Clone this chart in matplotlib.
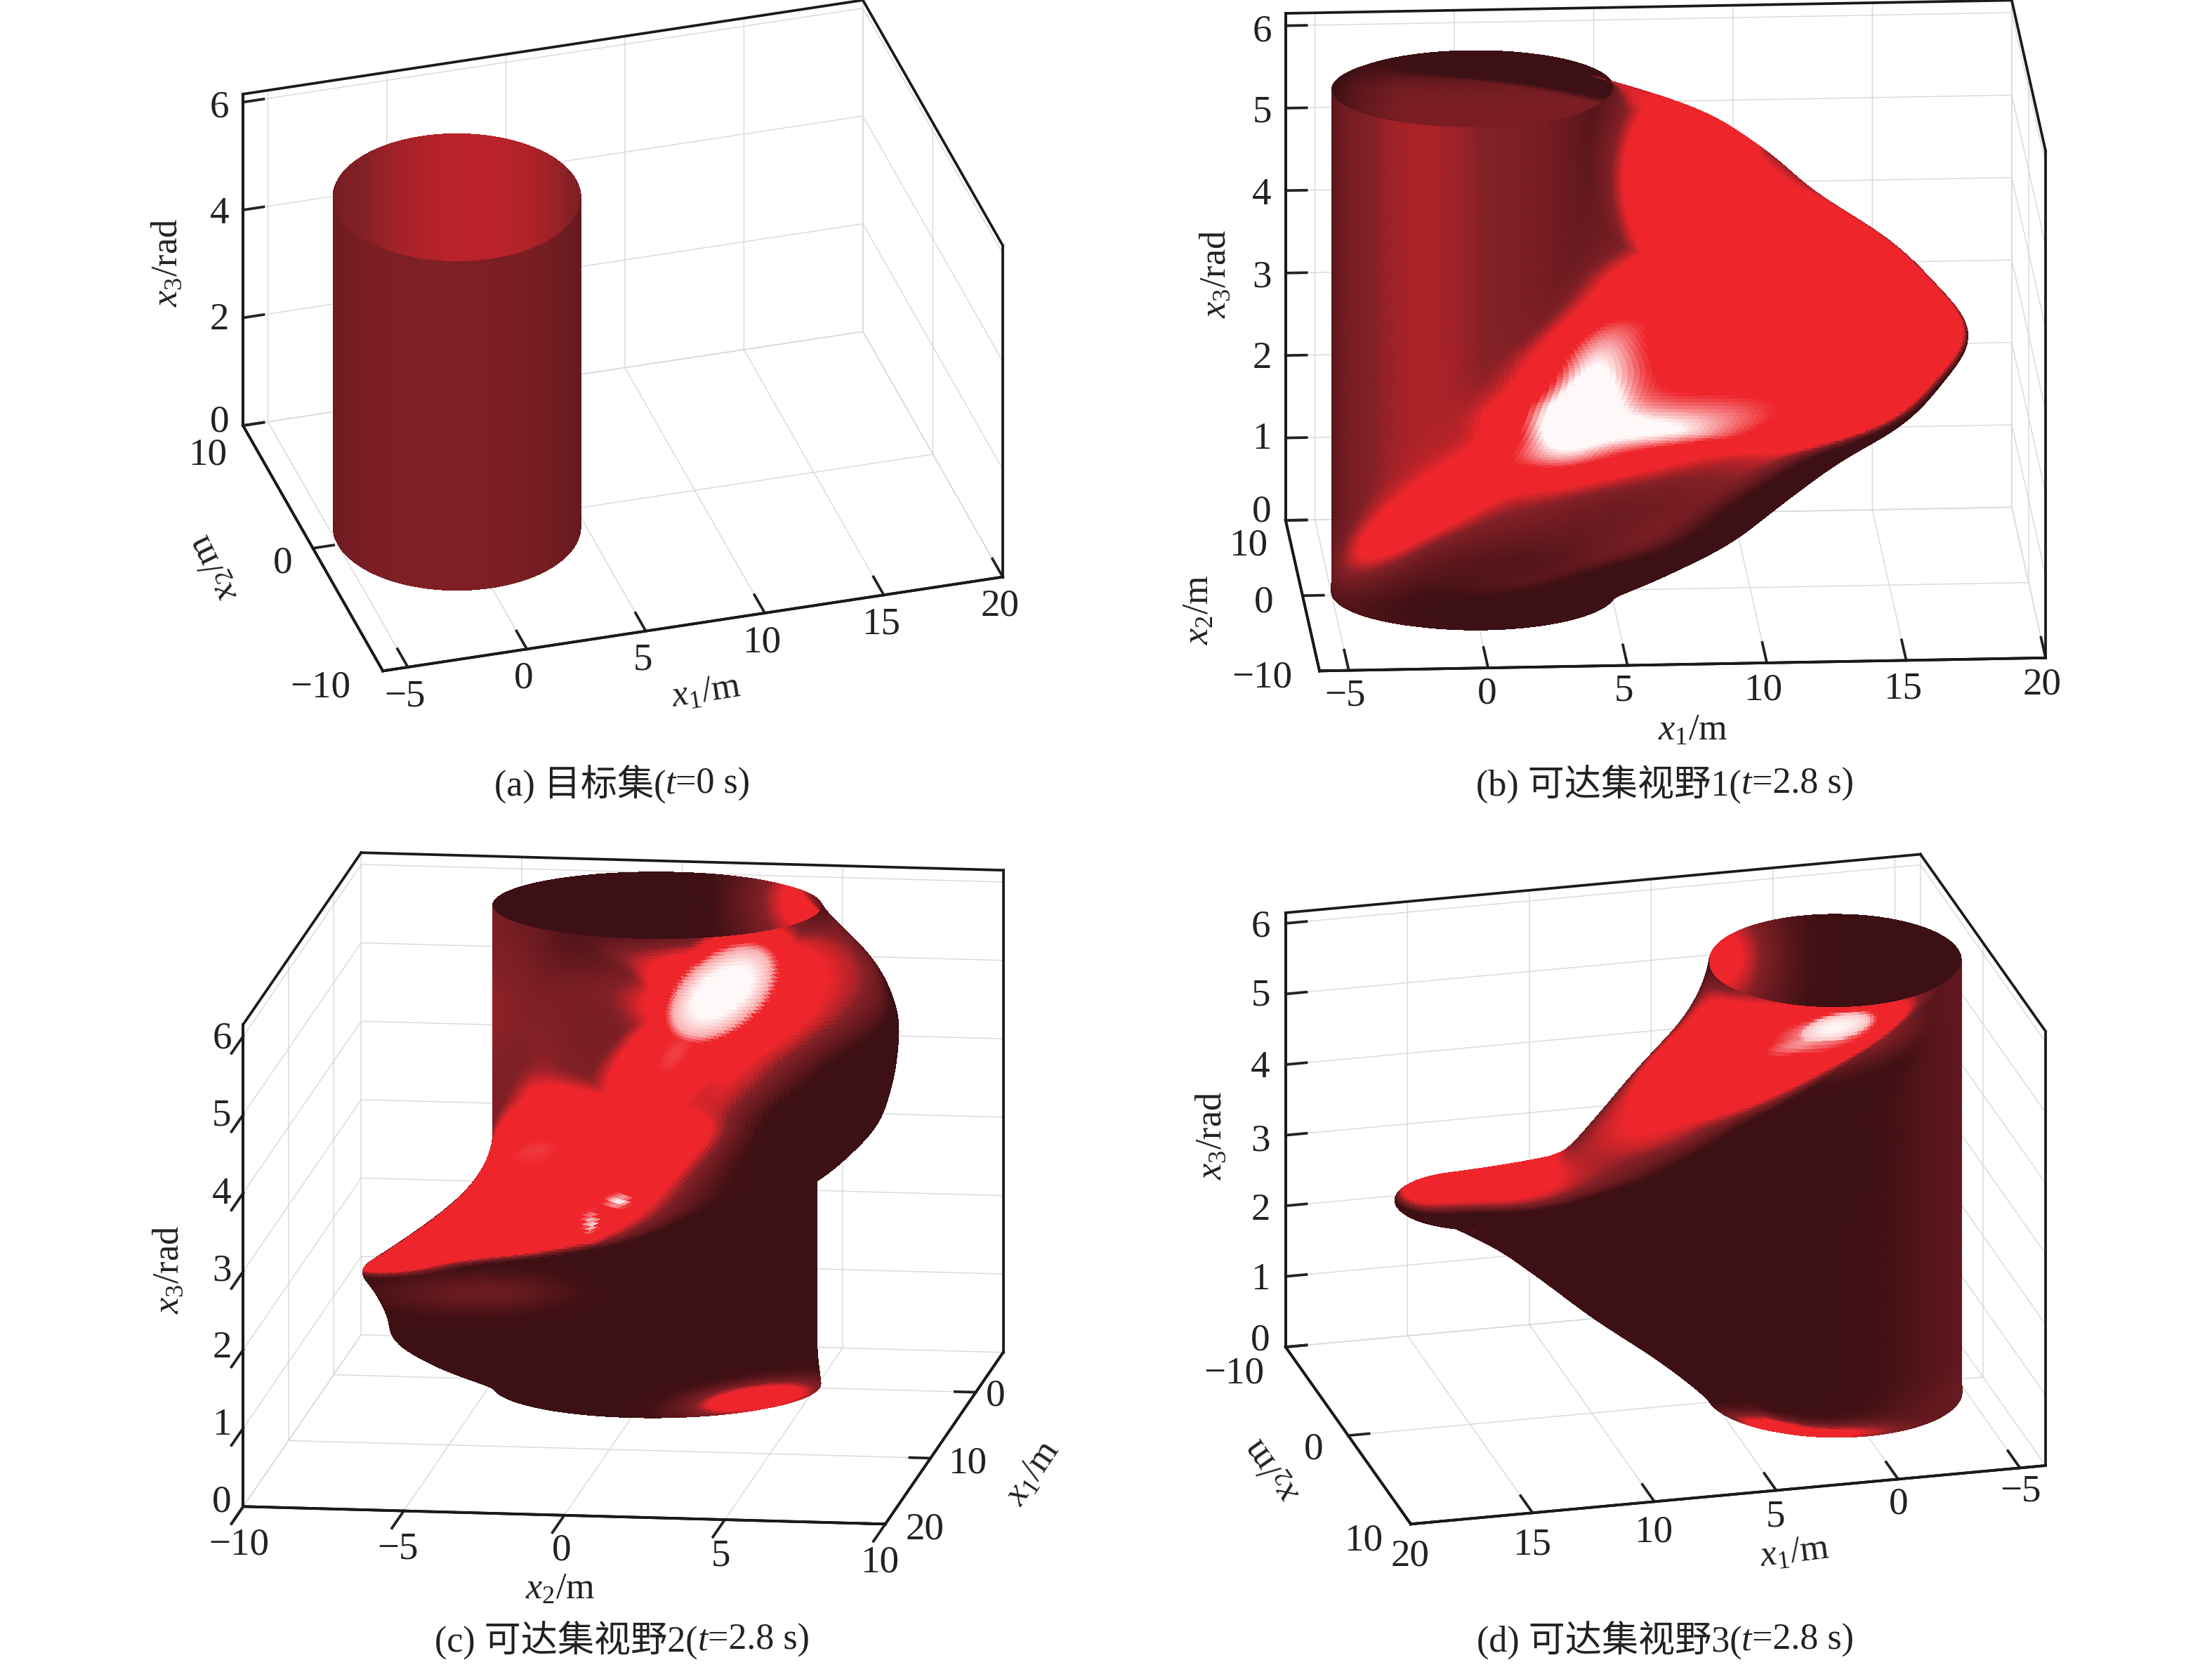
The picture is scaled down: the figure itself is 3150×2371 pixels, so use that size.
import numpy as np
import matplotlib
matplotlib.use('Agg')
import matplotlib.pyplot as plt
from matplotlib.transforms import Affine2D
from mpl_toolkits.mplot3d import proj3d

plt.rcParams['font.family'] = ['Liberation Serif', 'Noto Sans CJK SC']
plt.rcParams['mathtext.fontset'] = 'custom'
plt.rcParams['mathtext.rm'] = 'Liberation Serif'
plt.rcParams['mathtext.it'] = 'Liberation Serif:italic'

W, H = 3150, 2371
DPI = 300
VIEW = W / 1568

# ---- data ----
target_radius = 5.0
target_top = 6.1
x_limits = (-6.05, 20.0)
y_limits = (-10.0, 10.0)
z_limits = (0.0, 6.15)
x_ticks = [-5, 0, 5, 10, 15, 20]
x_ticks_c = [0, 10, 20]
y_ticks = [-10, 0, 10]
y_ticks_c = [-10, -5, 0, 5, 10]
z_ticks_a = [0, 2, 4, 6]
z_ticks = [0, 1, 2, 3, 4, 5, 6]

level_z = [0.0, 0.2, 0.5, 1.0, 1.5, 2.0, 2.5, 3.1, 3.7, 4.2, 4.7, 5.2, 5.6, 5.9, 6.1]
level_dx = [0.0, 0.8, 2.4, 5.4, 7.8, 10.0, 12.6, 15.0, 12.8, 10.0, 8.0, 5.5, 2.6, 0.6, 0.0]
level_dy = [0.0, -0.5, -2.0, -3.4, -3.8, -4.2, -4.4, -0.6, 4.0, 5.6, 5.4, 4.6, 3.0, 0.9, 0.0]
level_r = [5.0, 4.9, 4.6, 4.0, 3.4, 3.1, 3.1, 3.2, 2.9, 2.8, 3.2, 3.8, 4.3, 4.8, 5.0]
level_cy = [0.15, 0.05, 0.0, 0.0, 0.0, 0.0, 0.0, 0.0, 0.0, 0.0, 0.0, 0.0, 0.0, 0.0, 0.0]

captions = [('(a) 目标集(', 't', '=0 s)'),
            ('(b) 可达集视野1(', 't', '=2.8 s)'),
            ('(c) 可达集视野2(', 't', '=2.8 s)'),
            ('(d) 可达集视野3(', 't', '=2.8 s)')]
caption_xy = [(886, 1117), (2371, 1117), (886, 2336), (2371, 2336)]

# box edges in reference pixels (y down)
panels = [
    dict(xe=((545.2, 955.4), (1428, 821.6)), ye=((545.2, 955.4), (346, 606)), zh=472,
         anchor=((x_limits[0], y_limits[0], 0), (545.2, 955.4))),
    dict(xe=((1879, 955.4), (2913, 936.8)), ye=((1879, 955.4), (1830.8, 741)), zh=722,
         anchor=((x_limits[0], y_limits[0], 0), (1879, 955.4))),
    dict(xe=((1428.6, 1925.8), (1260.7, 2170.3)), ye=((346.4, 2145.3), (1260.7, 2170.3)), zh=686.6,
         anchor=((x_limits[1], y_limits[1], 0), (1260.7, 2170.3))),
    dict(xe=((2913, 2087), (2009, 2170.3)), ye=((1830.8, 1918.2), (2009, 2170.3)), zh=618.4,
         anchor=((x_limits[1], y_limits[1], 0), (2009, 2170.3))),
]

# tick label nudges, in 1568-wide view pixels, one per tick
nudges = [
    dict(x=[(-8.5, -18)] * 6,
         y=[(-16, -20), (7, -21), (3, -11)],
         z=[(18, -8), (18, -4), (18, -3), (18, -2)]),
    dict(x=[(-4, -20), (-2, -20), (-4, -20), (-4, -19), (-4, -18), (-4, -19)],
         y=[(-12, -28), (1, -28), (2, -15)],
         z=[(13, -13), (13, -6), (13, -5), (13, -4), (13, -4), (13, -4), (13, -3)]),
    dict(x=[(-8, -27), (4, -26), (6, -26)],
         y=[(1, -8), (0, -8), (2, -10), (1, -9), (0, -8)],
         z=[(11, -21), (11, -20), (11, -19), (11, -18), (11, -17), (11, -17), (11, -16)]),
    dict(x=[(-5, -22), (-5, -21), (-6, -20), (-6, -17), (-6, -16), (-6, -16)],
         y=[(-9, -15), (3, -24), (-6, -22)],
         z=[(15, -12), (15, -5), (15, -4), (15, -3), (15, -5), (15, -6), (15, -5)]),
]
tick_signs = [dict(x=-1, y=-1, z=-1), dict(x=-1, y=-1, z=-1),
              dict(x=-1, y=1, z=1), dict(x=-1, y=-1, z=-1)]

shade_stops = [0.0, 0.12, 0.55, 0.7, 1.0, 1.2]
shade_rgb = [(60, 16, 20), (63, 16, 20), (130, 32, 38), (238, 38, 44), (238, 38, 44), (255, 248, 248)]
panel_light = [(-0.25, -0.5, 0.83), (-0.05, -0.55, 0.83), (-0.05, -0.45, 0.89), (-0.2, 0.1, 0.97)]
panel_fill = [0.0, 0.2, 0.25, 0.12]
normal_scale = (40.0, 40.0, 115.0)
# lit or shaded patches on the view: centre u, v, half sizes, angle, amount
lifts = [
    [],
    [(1200, 130, 45, 65, 0, 1.3)],
    [(470, 760, 60, 35, 42, 0.95), (512, 705, 50, 30, 38, 1.3)],
    [(1265, 745, 65, 16, 12, 0.95), (1300, 730, 35, 12, 14, 1.2)],
]
patches = [
    [],
    [(1120, 280, 18, 40, -25, 0.3), (1170, 312, 60, 14, 10, 0.27), (1120, 310, 40, 26, 0, 0.2),
     (1010, 365, 70, 14, 33, 0.35), (1090, 400, 110, 28, 20, -0.6)],
    [(512, 705, 40, 22, 38, 0.3), (415, 870, 4, 7, 0, 0.3),
     (436, 853, 7, 4, 0, 0.3), (535, 992, 40, 9, 8, 1.0), (340, 917, 60, 12, 0, 0.4),
     (375, 720, 25, 60, 0, 0.25), (560, 803, 85, 22, 39, -0.8)],
    [(1300, 730, 35, 12, 14, 0.25),
     (1255, 1012, 30, 6, -12, 0.8), (1310, 1016, 30, 5, 2, 0.5)],
]
inner_patches = [
    [],
    [(1050, 45, 80, 10, 0, -0.35)],
    [(570, 640, 35, 30, 0, 0.45)],
    [(1225, 680, 30, 35, 0, 0.45)],
]
inner_cap = [9.0, 0.5, 0.5, 0.5]


def solve_view(p):
    X = np.array(p['xe'][1]) - np.array(p['xe'][0]); X[1] = -X[1]
    Y = np.array(p['ye'][1]) - np.array(p['ye'][0]); Y[1] = -Y[1]
    s = np.sqrt(-X[1] * Y[1] / (X[0] * Y[0]))
    k = -X[1] / (s * Y[0])
    a = np.hypot(X[0], Y[0] * k)
    b = a / k
    az = np.arctan2(-X[0] / a, Y[0] * k / a)
    el = np.arcsin(s)
    c = p['zh'] / np.cos(el)
    return np.degrees(el), np.degrees(az), a, b, c, np.hypot(*X), np.hypot(*Y)


def fine_profile(n):
    z = np.linspace(level_z[0], level_z[-1], n)
    kern = np.hanning(n // 9 | 1)
    kern /= kern.sum()
    pad = len(kern) // 2
    def f(v):
        y = np.interp(z, level_z, v)
        return np.convolve(np.r_[np.full(pad, y[0]), y, np.full(pad, y[-1])], kern, 'valid')
    return z, f(level_dx), f(level_dy), f(level_r), f(level_cy)


def capsule(dx, dy, r1, r0, ns):
    phi = np.linspace(-np.pi, np.pi, 1441)
    ux, uy = np.cos(phi), np.sin(phi)
    use1 = ux * dx + uy * dy + r1 > r0
    px = np.where(use1, dx + r1 * ux, r0 * ux)
    py = np.where(use1, dy + r1 * uy, r0 * uy)
    s = np.r_[0, np.cumsum(np.hypot(np.diff(px), np.diff(py)))]
    t = np.linspace(0, s[-1], ns)
    return np.interp(t, s, px), np.interp(t, s, py)


def build_surface(zf, dx, dy, r, cy, ns=260):
    X = np.zeros((len(zf), ns)); Y = np.zeros_like(X)
    for i in range(len(zf)):
        X[i], Y[i] = capsule(dx[i], dy[i], r[i], target_radius, ns)
        Y[i] += cy[i]
    return X, Y, np.repeat(zf[:, None], ns, 1)


def blur(A, w0, ws):
    k0 = np.hanning(w0 + 2)[1:-1]; k0 /= k0.sum()
    ks = np.hanning(ws + 2)[1:-1]; ks /= ks.sum()
    out = A.copy()
    p0 = w0 // 2
    ps = ws // 2
    for c in range(A.shape[-1]):
        B = np.pad(out[..., c], ((p0, p0), (0, 0)), mode='edge')
        B = np.apply_along_axis(lambda v: np.convolve(v, k0, 'valid'), 0, B)
        B = np.pad(B[:, :-1], ((0, 0), (ps, ps)), mode='wrap')
        B = np.apply_along_axis(lambda v: np.convolve(v, ks, 'valid'), 1, B)
        out[..., c] = np.c_[B, B[:, 0]]
    return out


def bump(us, ws, spec):
    cu, cw, su, sw, ang, amount = spec
    t = np.radians(ang)
    du, dw = us - cu, ws - cw
    a1 = du * np.cos(t) - dw * np.sin(t)
    a2 = du * np.sin(t) + dw * np.cos(t)
    return amount * np.exp(-0.5 * ((a1 / su) ** 2 + (a2 / sw) ** 2))


def shade(ax, X, Y, Z, el, az, i, amb, dif, back_bonus, smooth):
    P = np.stack([X * normal_scale[0], Y * normal_scale[1], Z * normal_scale[2]], -1)
    dr = np.gradient(P, axis=0)
    ds = np.roll(P, -1, 1) - np.roll(P, 1, 1)
    ds[:, 0] = P[:, 1] - P[:, -2]; ds[:, -1] = ds[:, 0]
    n = np.cross(ds, dr)
    n /= np.linalg.norm(n, axis=-1, keepdims=True) + 1e-9
    if smooth:
        n = blur(n, 9, 9)
        n /= np.linalg.norm(n, axis=-1, keepdims=True) + 1e-9
    e, a_r = np.radians(el), np.radians(az)
    eye = np.array([np.cos(e) * np.cos(a_r), np.cos(e) * np.sin(a_r), np.sin(e)])
    back = (n @ eye) < 0
    n = np.where(back[..., None], -n, n)
    L = np.array(panel_light[i], float); L /= np.linalg.norm(L)
    v = amb + dif * (n @ L) + back_bonus * back
    v = v + panel_fill[i] * np.clip(-n[..., 0], 0, 1)
    v = np.where(back, np.minimum(v, inner_cap[i]), v)
    v = np.minimum(v, 0.95)
    # view position of every mesh node
    M = ax.get_proj()
    u3, w3, _ = proj3d.proj_transform(X.ravel(), Y.ravel(), Z.ravel(), M)
    pix = ax.transData.transform(np.c_[u3, w3])
    us = (pix[:, 0] / VIEW).reshape(X.shape)
    ws = ((H - pix[:, 1]) / VIEW).reshape(X.shape)
    for spec in lifts[i]:
        v = np.where(~back, np.maximum(v, np.minimum(bump(us, ws, spec), 0.95)), v)
    for plist, mask in ((patches[i], ~back), (inner_patches[i], back)):
        for spec in plist:
            v = v + bump(us, ws, spec) * mask
    v = np.clip(v, 0, shade_stops[-1])
    rgb = np.array(shade_rgb) / 255
    col = np.stack([np.interp(v, shade_stops, rgb[:, j]) for j in range(3)], -1)
    return col[:-1, :-1]


def fit_axes(ax, p):
    corner, target = p['anchor']
    tx, ty = target[0], H - target[1]
    want = np.hypot(*(np.array(p['xe'][1]) - np.array(p['xe'][0])))
    xs = np.array(x_limits)
    S = 1800.0
    cx, cy = tx, ty
    def px(v, M):
        u, w, _z = proj3d.proj_transform(v[0], v[1], v[2], M)
        return ax.transData.transform((u, w))
    for _ in range(4):
        ax.set_position([(cx - S / 2) / W, (cy - S / 2) / H, S / W, S / H])
        ax.apply_aspect()
        M = ax.get_proj()
        S *= want / np.hypot(*(px((xs[1], 0, 0), M) - px((xs[0], 0, 0), M)))
        ax.set_position([(cx - S / 2) / W, (cy - S / 2) / H, S / W, S / H])
        ax.apply_aspect()
        M = ax.get_proj()
        got = px(corner, M)
        cx += tx - got[0]; cy += ty - got[1]
    ax.set_position([(cx - S / 2) / W, (cy - S / 2) / H, S / W, S / H])


def minus(v):
    return [str(t).replace('-', '\u2212') for t in v]


def nudge_labels(ax, axis, offsets):
    # mplot3d resets the label transform each time it asks for the ticks
    original = axis.get_major_ticks
    def patched(numticks=None):
        ticks = original(numticks)
        for tk, nd in zip(ticks, offsets):
            tk.label1.set_transform(ax.transData + Affine2D().translate(nd[0] * VIEW, -nd[1] * VIEW))
        return ticks
    axis.get_major_ticks = patched


fig = plt.figure(figsize=(W / DPI, H / DPI), dpi=DPI, facecolor='white')
zf, dxf, dyf, rf, cyf = fine_profile(200)
X_r, Y_r, Z_r = build_surface(zf, dxf, dyf, rf, cyf)
th = np.linspace(-np.pi, np.pi, 181)
zc = np.linspace(0, target_top, 3)
X_c = target_radius * np.outer(np.ones_like(zc), np.cos(th))
Y_c = target_radius * np.outer(np.ones_like(zc), np.sin(th))
Z_c = np.outer(zc, np.ones_like(th))

tick_size = 13.2
tick_px = 31.0

for i, p in enumerate(panels):
    el, az, a, b, c, lx_px, ly_px = solve_view(p)
    ax = fig.add_axes([0, 0, 0.5, 0.5], projection='3d', proj_type='ortho')
    ax.patch.set_alpha(0)
    ax.computed_zorder = False
    ax.view_init(elev=el, azim=az)
    ax.set_box_aspect((a, b, c))
    ax.set_xlim(*x_limits, view_margin=0)
    ax.set_ylim(*y_limits, view_margin=0)
    ax.set_zlim(*z_limits, view_margin=0)
    ticks = dict(x=x_ticks_c if i == 2 else x_ticks,
                 y=y_ticks_c if i == 2 else y_ticks,
                 z=z_ticks_a if i == 0 else z_ticks)
    ax.set_xticks(ticks['x']); ax.set_xticklabels(minus(ticks['x']))
    ax.set_yticks(ticks['y']); ax.set_yticklabels(minus(ticks['y']))
    ax.set_zticks(ticks['z']); ax.set_zticklabels(minus(ticks['z']))
    factors = dict(x=12 * tick_px / ly_px, y=12 * tick_px / lx_px, z=12 * tick_px / lx_px)
    for name, axis in zip('xyz', (ax.xaxis, ax.yaxis, ax.zaxis)):
        axis.set_pane_color((1, 1, 1, 0))
        axis._axinfo['grid'].update(color=(0.85, 0.85, 0.85, 1), linewidth=0.35)
        axis._axinfo['tick'].update(inward_factor=tick_signs[i][name] * factors[name], outward_factor=0.0,
                                    linewidth={True: 0.9, False: 0.5})
        axis._axinfo['axisline'].update(color=(0.1, 0.1, 0.1, 1), linewidth=0.9)
        axis.line.set_linewidth(0.9)
        axis.set_tick_params(labelsize=tick_size, pad=2, colors='#222222')
        nudge_labels(ax, axis, nudges[i][name])
    fit_axes(ax, p)
    ax.apply_aspect()

    if i == 0:
        col = shade(ax, X_c, Y_c, Z_c, el, az, i, 0.36, 0.3, 0.1, False)
        ax.plot_surface(X_c, Y_c, Z_c, facecolors=col, rstride=1, cstride=1, shade=False,
                        linewidth=0, antialiased=False, zorder=2)
    else:
        col = shade(ax, X_r, Y_r, Z_r, el, az, i, 0.0, 1.0, 0.0, True)
        ax.plot_surface(X_r, Y_r, Z_r, facecolors=col, rstride=1, cstride=1, shade=False,
                        linewidth=0, antialiased=False, zorder=2)

    x0, x1 = x_limits; y0, y1 = y_limits; z1 = z_limits[1]
    eye_x = np.cos(np.radians(az)); eye_y = np.sin(np.radians(az))
    xfar = x0 if eye_x > 0 else x1
    xnear = x1 if eye_x > 0 else x0
    yfar = y0 if eye_y > 0 else y1
    ynear = y1 if eye_y > 0 else y0
    ring = [(x1, y1), (x0, y1), (x0, y0), (x1, y0)]
    for (xa, ya), (xb, yb) in zip(ring, ring[1:] + ring[:1]):
        if (xa, ya) == (xnear, ynear) or (xb, yb) == (xnear, ynear):
            ax.plot([xa, xb], [ya, yb], [0, 0], color='#1a1a1a', lw=0.9, zorder=1)
        if (xa, ya) == (xfar, yfar) or (xb, yb) == (xfar, yfar):
            ax.plot([xa, xb], [ya, yb], [z1, z1], color='#1a1a1a', lw=0.9, zorder=1)
    for (xa, ya) in ring:
        if (xa, ya) not in ((xnear, ynear), (xfar, yfar)):
            ax.plot([xa, xa], [ya, ya], [0, z1], color='#1a1a1a', lw=0.9, zorder=1)

axis_labels = [
    (1006, 986, r'$x_1$/m', 9), (305, 808, r'$x_2$/m', 116), (239, 374, r'$x_3$/rad', 90),
    (2411, 1041, r'$x_1$/m', 0), (1708, 868, r'$x_2$/m', 90), (1732, 390, r'$x_3$/rad', 90),
    (798, 2264, r'$x_2$/m', 0), (1471, 2098, r'$x_1$/m', 56), (241, 1808, r'$x_3$/rad', 90),
    (2556, 2212, r'$x_1$/m', 7), (1812, 2093, r'$x_2$/m', 125), (1726, 1617, r'$x_3$/rad', 90),
]
for lx, ly, s, rot in axis_labels:
    fig.text(lx / W, 1 - ly / H, s, fontsize=12.5, rotation=rot, ha='center', va='center',
             rotation_mode='anchor', color='#222222')

rend = fig.canvas.get_renderer()
for (c0, c1, c2), (cx, cy) in zip(captions, caption_xy):
    parts = []
    for s, style in ((c0, 'normal'), (c1, 'italic'), (c2, 'normal')):
        parts.append(fig.text(0, 1 - cy / H, s, fontsize=12.5, style=style, va='center', color='#222222'))
    widths = [t.get_window_extent(rend).width for t in parts]
    xp = cx - sum(widths) / 2
    for t, w in zip(parts, widths):
        t.set_x(xp / W)
        xp += w

fig.savefig('out.png', dpi=DPI)
